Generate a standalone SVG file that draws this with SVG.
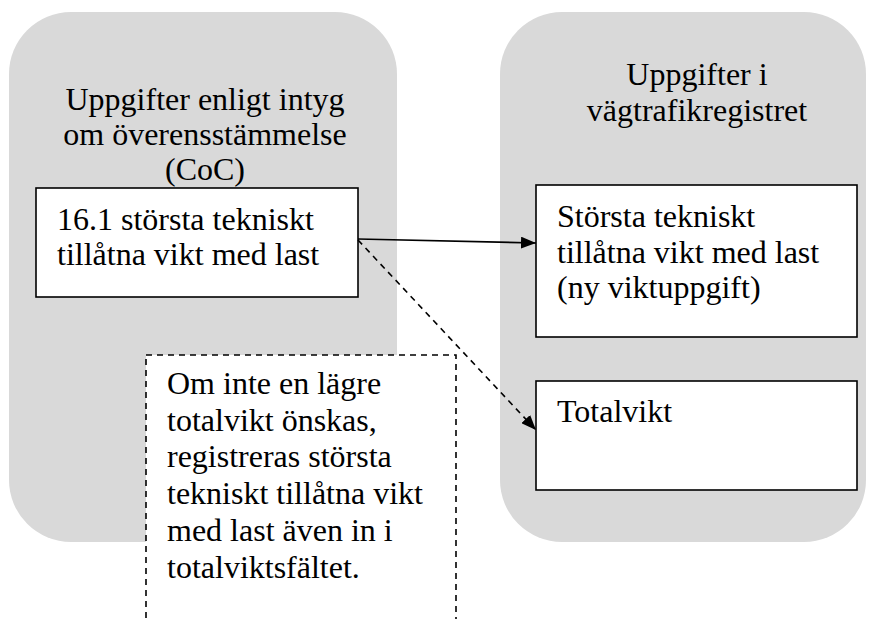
<svg xmlns="http://www.w3.org/2000/svg" width="875" height="619" viewBox="0 0 875 619">
<style>
.panel{fill:#d9d9d9;stroke:none}
.box{fill:#fff;stroke:#000;stroke-width:1.6}
.dbox{fill:#fff;stroke:#000;stroke-width:1.6;stroke-dasharray:6 5}
text{font-family:"Liberation Serif","Times New Roman",serif;font-size:32px;fill:#000}
.c{text-anchor:middle}
.line{stroke:#000;stroke-width:1.6;fill:none}
.dash{stroke-dasharray:6 5}
</style>
<defs>
<marker id="ah" viewBox="0 0 15 12" refX="15" refY="6" markerWidth="15" markerHeight="12" markerUnits="userSpaceOnUse" orient="auto">
<path d="M0,0 L15,6 L0,12 z" fill="#000"/>
</marker>
</defs>
<g id="panel-left">
<rect class="panel" x="9" y="12" width="388" height="530" rx="62" ry="62"/>
<text class="c" x="205" y="110">Uppgifter enligt intyg</text>
<text class="c" x="205" y="145">om överensstämmelse</text>
<text class="c" x="205" y="180">(CoC)</text>
</g>
<g id="panel-right">
<rect class="panel" x="500" y="12" width="366" height="530" rx="62" ry="62"/>
<text class="c" x="697" y="85">Uppgifter i</text>
<text class="c" x="697" y="121">vägtrafikregistret</text>
</g>
<g id="node-coc">
<rect class="box" x="36" y="188" width="322" height="109"/>
<text x="57" y="230">16.1 största tekniskt</text>
<text x="57" y="265">tillåtna vikt med last</text>
</g>
<g id="node-storsta">
<rect class="box" x="536" y="185" width="321" height="152"/>
<text x="557" y="227">Största tekniskt</text>
<text x="557" y="263">tillåtna vikt med last</text>
<text x="557" y="298">(ny viktuppgift)</text>
</g>
<g id="node-totalvikt">
<rect class="box" x="536" y="381" width="321" height="109"/>
<text x="557" y="422">Totalvikt</text>
</g>
<g id="node-note">
<rect class="dbox" x="146" y="355" width="310" height="300"/>
<text x="167" y="394">Om inte en lägre</text>
<text x="167" y="431">totalvikt önskas,</text>
<text x="167" y="467">registreras största</text>
<text x="167" y="504">tekniskt tillåtna vikt</text>
<text x="167" y="541">med last även in i</text>
<text x="167" y="578">totalviktsfältet.</text>
</g>
<g id="connectors">
<line class="line" x1="358" y1="239" x2="536" y2="243" marker-end="url(#ah)"/>
<line class="line dash" x1="358" y1="240" x2="536" y2="430" marker-end="url(#ah)"/>
</g>
</svg>
